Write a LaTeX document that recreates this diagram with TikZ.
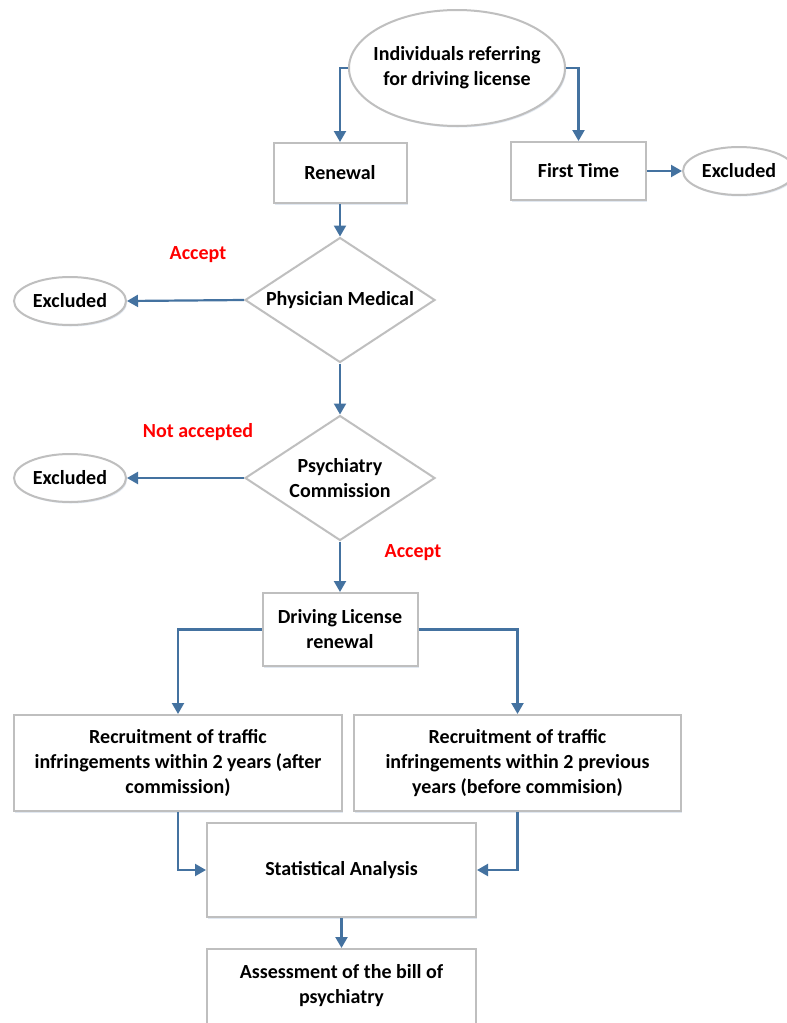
\documentclass[tikz,border=0pt]{standalone}
\usepackage{fontspec}
\setmainfont{Carlito}
\usetikzlibrary{shapes.geometric,arrows.meta,shadows}
\definecolor{conncol}{RGB}{68,114,160}
\definecolor{boxgray}{RGB}{191,191,191}
\definecolor{shcol}{RGB}{170,190,215}
\begin{document}
\begin{tikzpicture}[x=1pt,y=-1pt,
  every node/.style={font=\fontsize{20}{25}\selectfont\bfseries, align=center, text=black},
  shad/.style={drop shadow={shadow xshift=1.2pt, shadow yshift=-1.5pt, fill=shcol, opacity=0.35}},
  boxnode/.style={draw=boxgray, line width=2pt, fill=white, rectangle, inner sep=0pt, shad},
  ellnode/.style={draw=boxgray, line width=2pt, fill=white, ellipse, inner sep=0pt, shad},
  dianode/.style={draw=boxgray, line width=2pt, fill=white, diamond, inner sep=0pt, shape aspect=1.52},
  conn/.style={draw=conncol, line width=2.2pt, -{Triangle[length=11pt,width=12pt]}},
  redlab/.style={text=red}
]
\useasboundingbox (0,0) rectangle (787,1023);
\clip (0,0) rectangle (787,1023);
\fill[white] (0,0) rectangle (787,1023);

\node[ellnode, inner sep=-8pt, minimum width=216pt, minimum height=116pt] (ind) at (457,68) {Individuals referring\\for driving license};
\node[boxnode, minimum width=133pt, minimum height=60pt] (ren) at (340,173) {Renewal};
\node[boxnode, minimum width=135pt, minimum height=58pt] (ft) at (578.5,171) {First Time};
\node[ellnode, minimum width=112pt, minimum height=48pt] (ex0) at (739,171) {Excluded};

\node[dianode, minimum width=190pt, minimum height=125pt] (phys) at (340,300) {Physician Medical};
\node[ellnode, minimum width=112pt, minimum height=48pt] (ex1) at (70,301) {Excluded};
\node[redlab] (acc1) at (198,255) {Accept};

\node[dianode, minimum width=190pt, minimum height=125pt] (psy) at (340,478) {Psychiatry\\Commission};
\node[ellnode, minimum width=112pt, minimum height=48pt] (ex2) at (70,478) {Excluded};
\node[redlab] (nacc) at (198,432) {Not accepted};
\node[redlab] (acc2) at (413,553) {Accept};

\node[boxnode, minimum width=155pt, minimum height=73pt] (dl) at (340,629.5) {Driving License\\renewal};
\node[boxnode, minimum width=328pt, minimum height=96pt] (rl) at (178,763) {Recruitment of traffic\\infringements within 2 years (after\\commission)};
\node[boxnode, minimum width=327pt, minimum height=96pt] (rr) at (517.5,763) {Recruitment of traffic\\infringements within 2 previous\\years (before commision)};

\node[boxnode, minimum width=269pt, minimum height=94pt] (stat) at (341.5,870) {Statistical Analysis};
\node[boxnode, minimum width=269pt, minimum height=90pt] (ass) at (341.5,994) {};
\node (asst) at (341.5,985.5) {Assessment of the bill of\\psychiatry};

\draw[conn] (ind.west) -| (ren.north);
\draw[conn] (ind.east) -| (ft.north);
\draw[conn] (ft.east) -- (ex0.west);
\draw[conn] (ren.south) -- (phys.north);
\draw[conn] (phys.west) -- (ex1.east);
\draw[conn] (phys.south) -- (psy.north);
\draw[conn] (psy.west) -- (ex2.east);
\draw[conn] (psy.south) -- (dl.north);
\draw[conn] (dl.west) -| (rl.north);
\draw[conn] (dl.east) -| (rr.north);
\draw[conn] (rl.south) |- (stat.west);
\draw[conn] (rr.south) |- (stat.east);
\draw[conn] (stat.south) -- (ass.north);
\end{tikzpicture}
\end{document}
